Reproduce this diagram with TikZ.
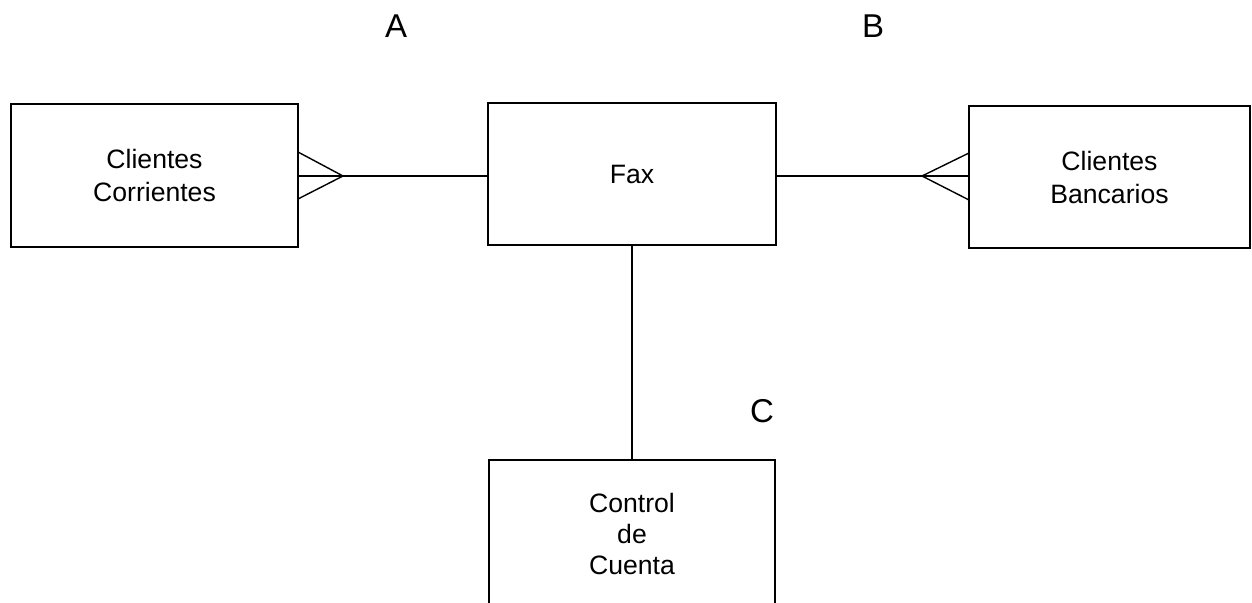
\documentclass[tikz,border=0pt]{standalone}
\usepackage{fontspec}
\setmainfont{Liberation Sans}
\begin{document}
\begin{tikzpicture}[x=0.5pt,y=-0.5pt,
  entity/.style={draw, line width=0.7pt, align=center, font=\fontsize{13.3}{16.5}\selectfont, inner sep=0pt},
  link/.style={line width=0.7pt},
  lbl/.style={font=\fontsize{16.5}{19}\selectfont}]
\useasboundingbox (0,0) rectangle (1252,603);
\clip (0,0) rectangle (1252,603);
\fill[white] (0,0) rectangle (1252,603);
\node[entity, minimum width=287pt*0.5, minimum height=143pt*0.5] (cc) at (154.5,175.5) {Clientes\\Corrientes};
\node[entity, minimum width=288pt*0.5, minimum height=142pt*0.5] (fax) at (632,174) {Fax};
\node[entity, minimum width=281pt*0.5, minimum height=142pt*0.5] (cb) at (1109.5,177) {Clientes\\Bancarios};
\node[entity, minimum width=286pt*0.5, minimum height=170pt*0.5, text height=0pt] (ctl) at (632,545) {};
\node[align=center, font=\fontsize{13.3}{15.5}\selectfont] (ctltext) at (632,534) {Control\\de\\Cuenta};
\node[lbl] (A) at (396,26) {A};
\node[lbl] (B) at (873,26) {B};
\node[lbl] (C) at (762,411) {C};
% crow's foot left
\coordinate (la) at (343,176);
\draw[link] (la) -- (fax.west |- la);
\draw[link] (la) -- (cc.east |- la);
\draw[link] (la) -- (298,152);
\draw[link] (la) -- (298,199);
% crow's foot right
\coordinate (ra) at (922,176);
\draw[link] (fax.east |- ra) -- (ra);
\draw[link] (ra) -- (cb.west |- ra);
\draw[link] (ra) -- (969,153);
\draw[link] (ra) -- (969,200);
% vertical
\draw[link] (fax.south) -- (ctl.north);
\end{tikzpicture}
\end{document}
